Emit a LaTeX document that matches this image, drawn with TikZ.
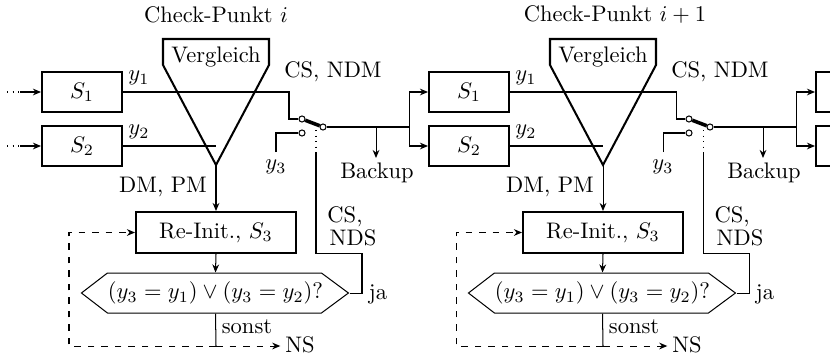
\documentclass[tikz,border=0pt]{standalone}
\usetikzlibrary{arrows.meta}
\begin{document}
\begin{tikzpicture}[x=0.4444pt,y=-0.4444pt,line width=0.45pt,
  thk/.style={line width=0.9pt},
  sysbox/.style={draw,line width=0.9pt,minimum width=35.55pt,minimum height=17.78pt,inner sep=0pt},
  arr/.style={-{Stealth[length=3.6pt,width=3pt]}},
  lbl/.style={inner sep=2pt},
  contact/.style={circle,draw,fill=white,line width=0.45pt,inner sep=0pt,minimum size=2.7pt}]
\useasboundingbox (0,0) rectangle (830,354);
\clip (0,0) rectangle (830,354);
% system blocks
\foreach \k/\dx in {a/0,b/387} {
  \node[sysbox] (s1\k) at (82+\dx,92) {$S_1$};
  \node[sysbox] (s2\k) at (82+\dx,146) {$S_2$};
}
\node[sysbox] (s1c) at (856,92) {};
\node[sysbox] (s2c) at (856,146) {};
% inputs of the first stage
\coordinate (in1) at (20,92);
\coordinate (in2) at (20,146);
\draw[dash pattern=on 0.5pt off 2pt] (7,92) -- (in1);
\draw[dash pattern=on 0.5pt off 2pt] (7,146) -- (in2);
\draw[arr] (in1) -- (s1a.west);
\draw[arr] (in2) -- (s2a.west);
% stages
\foreach \k/\dx/\lx/\lab/\nx in {a/0/216/i/b, b/387/228/i+1/c} {
\begin{scope}[shift={(\dx,0)}]
  \node[lbl] (cp\k) at (\lx,15) {Check-Punkt $\lab$};
  \draw[thk] (163,39) -- (269,39) -- (269,65) -- (216,165) -- (163,65) -- cycle;
  \node[lbl] (cmp\k) at (216,57) {Vergleich};
  \coordinate (apex\k) at (216,165);
  \node[lbl] (y1\k) at (139,78) {$y_1$};
  \node[lbl] (y2\k) at (139,132) {$y_2$};
  % switch
  \node[contact] (cu\k) at (302,119) {};
  \node[contact] (cl\k) at (302,133) {};
  \node[contact] (pv\k) at (323,127) {};
  \draw[line width=1.6pt] (cu\k) -- (pv\k);
  \draw (s1\k.east) -| (289,119) -- (cu\k);
  \draw (s2\k.east) -- (216,146);
  \node[lbl] (y3\k) at (276,167) {$y_3$};
  \draw (276,152) |- (cl\k);
  \node[lbl] (csn\k) at (333,72) {CS, NDM};
  \draw[dotted] (316,130) -- (316,153);
  % outputs
  \coordinate (sp\k) at (409,127);
  \coordinate (bk\k) at (376,127);
  \draw (pv\k) -- (sp\k);
  \draw[arr] (sp\k) |- (s1\nx.west);
  \draw[arr] (sp\k) |- (s2\nx.west);
  \node[lbl] (bu\k) at (377,173) {Backup};
  \draw[arr] (bk\k) -- (bk\k |- bu\k.north);
  % re-init
  \node[lbl] (dm\k) at (163,187) {DM, PM};
  \node[sysbox,minimum width=71.1pt,minimum height=18.2pt] (re\k) at (216,232.5) {Re-Init., $S_3$};
  \node[minimum width=118.7pt,minimum height=17.78pt,inner sep=0pt] (hex\k) at (215.5,293) {$(y_3=y_1)\vee(y_3=y_2)$?};
  \draw (hex\k.west) -- ++(26,-20) -- ++(214,0) -- ++(27,20) -- ++(-27,20) -- ++(-214,0) -- cycle;
  \draw[arr] (apex\k) -- (re\k.north);
  \draw[arr] (re\k.south) -- (hex\k.north);
  % ja branch
  \node[lbl] (ja\k) at (378,294) {ja};
  \draw (hex\k.east) -- (362,293) |- (316,253) -- (316,153);
  \node[lbl] (cs\k) at (345,217) {CS,};
  \node[lbl] (nds\k) at (353,238) {NDS};
  % sonst branch
  \coordinate (so\k) at (216,346);
  \draw (hex\k.south) -- (so\k);
  \node[lbl] (sonst\k) at (247,327) {sonst};
  \node[lbl] (ns\k) at (300,345) {NS};
  \draw[dashed,arr] (so\k) -- (so\k -| ns\k.west);
  \draw[dashed,arr] (so\k) -| (69,232.5) -- (re\k.west);
\end{scope}
}
\end{tikzpicture}
\end{document}
